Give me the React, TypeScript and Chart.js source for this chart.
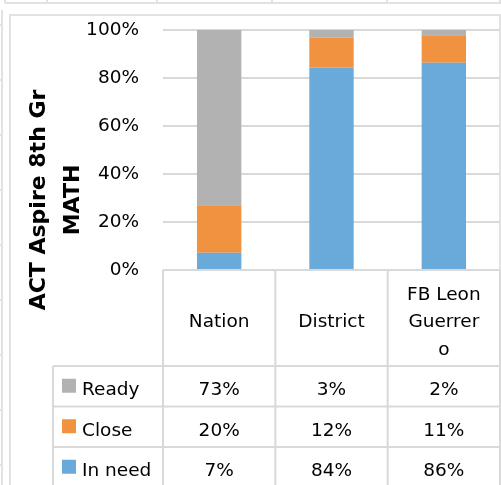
import React, { useEffect, useRef } from 'react';
import { Chart, registerables } from 'chart.js';

Chart.register(...registerables);

// ---- data ----
const categories: string[][] = [['Nation'], ['District'], ['FB Leon', 'Guerrer', 'o']];
const seriesNames = ['In need', 'Close', 'Ready'];
const inNeedValues = [7.2, 84.4, 86.4];
const closeValues = [19.8, 12.4, 11.4];
const readyValues = [73.0, 3.2, 2.2];
const seriesColors = ['#6AAADB', '#F19240', '#B2B2B2'];
const yTitleLines = ['ACT Aspire 8th Gr', 'MATH'];
const yMin = 0;
const yMax = 100;
const yStep = 20;

const FONT = "'DejaVu Sans', sans-serif";
const LINE = '#d9d9d9';

const frame = {
  id: 'frame',
  beforeDraw(chart: any) {
    const ctx = chart.ctx;
    ctx.save();
    ctx.fillStyle = '#ffffff';
    ctx.fillRect(0, 0, chart.width, chart.height);
    ctx.strokeStyle = '#e2e2e2';
    ctx.lineWidth = 2;
    // spreadsheet cell lines above / left of chart
    ctx.beginPath();
    ctx.moveTo(5, 3); ctx.lineTo(chart.width, 3);
    [5, 47, 157, 272, 387, 500].forEach((xx) => { ctx.moveTo(xx, 0); ctx.lineTo(xx, 3); });
    ctx.moveTo(2, 10); ctx.lineTo(2, chart.height);
    [25, 80, 135, 190, 245, 300, 355, 410, 465].forEach((yy) => { ctx.moveTo(0, yy); ctx.lineTo(3, yy); });
    ctx.stroke();
    // chart border
    ctx.strokeStyle = '#e2e2e2';
    ctx.beginPath();
    ctx.moveTo(10, chart.height); ctx.lineTo(10, 15); ctx.lineTo(500, 15); ctx.lineTo(500, chart.height);
    ctx.stroke();
    ctx.restore();
  },
  afterDraw(chart: any) {
    const ctx = chart.ctx;
    const area = chart.chartArea;
    const x = chart.scales.x;
    const n = chart.data.labels.length;
    const half = (x.getPixelForValue(1) - x.getPixelForValue(0)) / 2;
    const top = area.bottom;
    const headerBottom = top + 96;
    const rowH = 40.5;
    const legendLeft = 53;
    const nRows = chart.data.datasets.length;
    ctx.save();
    ctx.strokeStyle = LINE;
    ctx.lineWidth = 2;
    ctx.beginPath();
    // vertical lines
    for (let i = 0; i <= n; i++) {
      const xx = i < n ? x.getPixelForValue(i) - half : x.getPixelForValue(n - 1) + half;
      ctx.moveTo(xx, top); ctx.lineTo(xx, chart.height);
    }
    ctx.moveTo(legendLeft, headerBottom); ctx.lineTo(legendLeft, chart.height);
    // horizontal lines
    ctx.moveTo(area.left, top); ctx.lineTo(area.right, top);
    for (let r = 0; r <= nRows; r++) {
      const yy = headerBottom + r * rowH;
      ctx.moveTo(legendLeft, yy); ctx.lineTo(area.right, yy);
    }
    ctx.stroke();

    ctx.fillStyle = '#000';
    ctx.font = `18.5px ${FONT}`;
    ctx.textAlign = 'center';
    ctx.textBaseline = 'alphabetic';
    // header
    const headerMid = (top + headerBottom) / 2;
    chart.data.labels.forEach((lab: string[], i: number) => {
      const lines = Array.isArray(lab) ? lab : [lab];
      const lh = 27.5;
      lines.forEach((t, k) => {
        const by = headerMid + 9 + (k - (lines.length - 1) / 2) * lh;
        ctx.fillText(t, x.getPixelForValue(i), by);
      });
    });
    // rows (reverse dataset order: top of stack first)
    const ds = chart.data.datasets.slice().reverse();
    ds.forEach((d: any, r: number) => {
      const mid = headerBottom + r * rowH + rowH / 2;
      ctx.fillStyle = d.backgroundColor;
      ctx.fillRect(62, mid - 7.5, 14, 14);
      ctx.fillStyle = '#000';
      ctx.textAlign = 'left';
      ctx.fillText(d.label, 82, mid + 9);
      ctx.textAlign = 'center';
      d.data.forEach((v: number, i: number) => {
        ctx.fillText(`${Math.round(v)}%`, x.getPixelForValue(i), mid + 9);
      });
    });

    // y axis title
    ctx.font = `bold 22px ${FONT}`;
    ctx.textAlign = 'center';
    const baselines = [45, 78.5];
    yTitleLines.forEach((t, k) => {
      ctx.save();
      ctx.translate(baselines[k], 200);
      ctx.rotate(-Math.PI / 2);
      ctx.fillText(t, 0, 0);
      ctx.restore();
    });
    ctx.restore();
  },
};

export default function App() {
  const ref = useRef<HTMLCanvasElement | null>(null);
  useEffect(() => {
    if (!ref.current) return;
    const values = [inNeedValues, closeValues, readyValues];
    const chart = new Chart(ref.current, {
      type: 'bar',
      data: {
        labels: categories as any,
        datasets: seriesNames.map((name, i) => ({
          label: name,
          data: values[i],
          backgroundColor: seriesColors[i],
          borderWidth: 0,
          categoryPercentage: 1,
          barPercentage: 0.395,
        })),
      },
      options: {
        responsive: false,
        animation: false,
        devicePixelRatio: 1,
        layout: { padding: { top: 30, right: 1, bottom: 215, left: 0 } },
        plugins: { legend: { display: false }, tooltip: { enabled: false } },
        scales: {
          x: { stacked: true, display: false },
          y: {
            stacked: true,
            min: yMin,
            max: yMax,
            border: { display: false },
            grid: { color: LINE, lineWidth: 2, drawTicks: true, tickLength: 24, tickColor: 'rgba(0,0,0,0)' },
            afterFit: (scale: any) => { scale.width = 163; },
            ticks: {
              stepSize: yStep,
              padding: 0,
              color: '#000',
              font: { family: FONT, size: 18.5 },
              callback: (v: any) => `${v}%`,
            },
          },
        },
      },
      plugins: [frame],
    });
    return () => chart.destroy();
  }, []);
  return (
    <div style={{ position: 'absolute', left: 0, top: 0, width: 501, height: 485 }}>
      <canvas ref={ref} width={501} height={485} style={{ display: 'block' }} />
    </div>
  );
}
